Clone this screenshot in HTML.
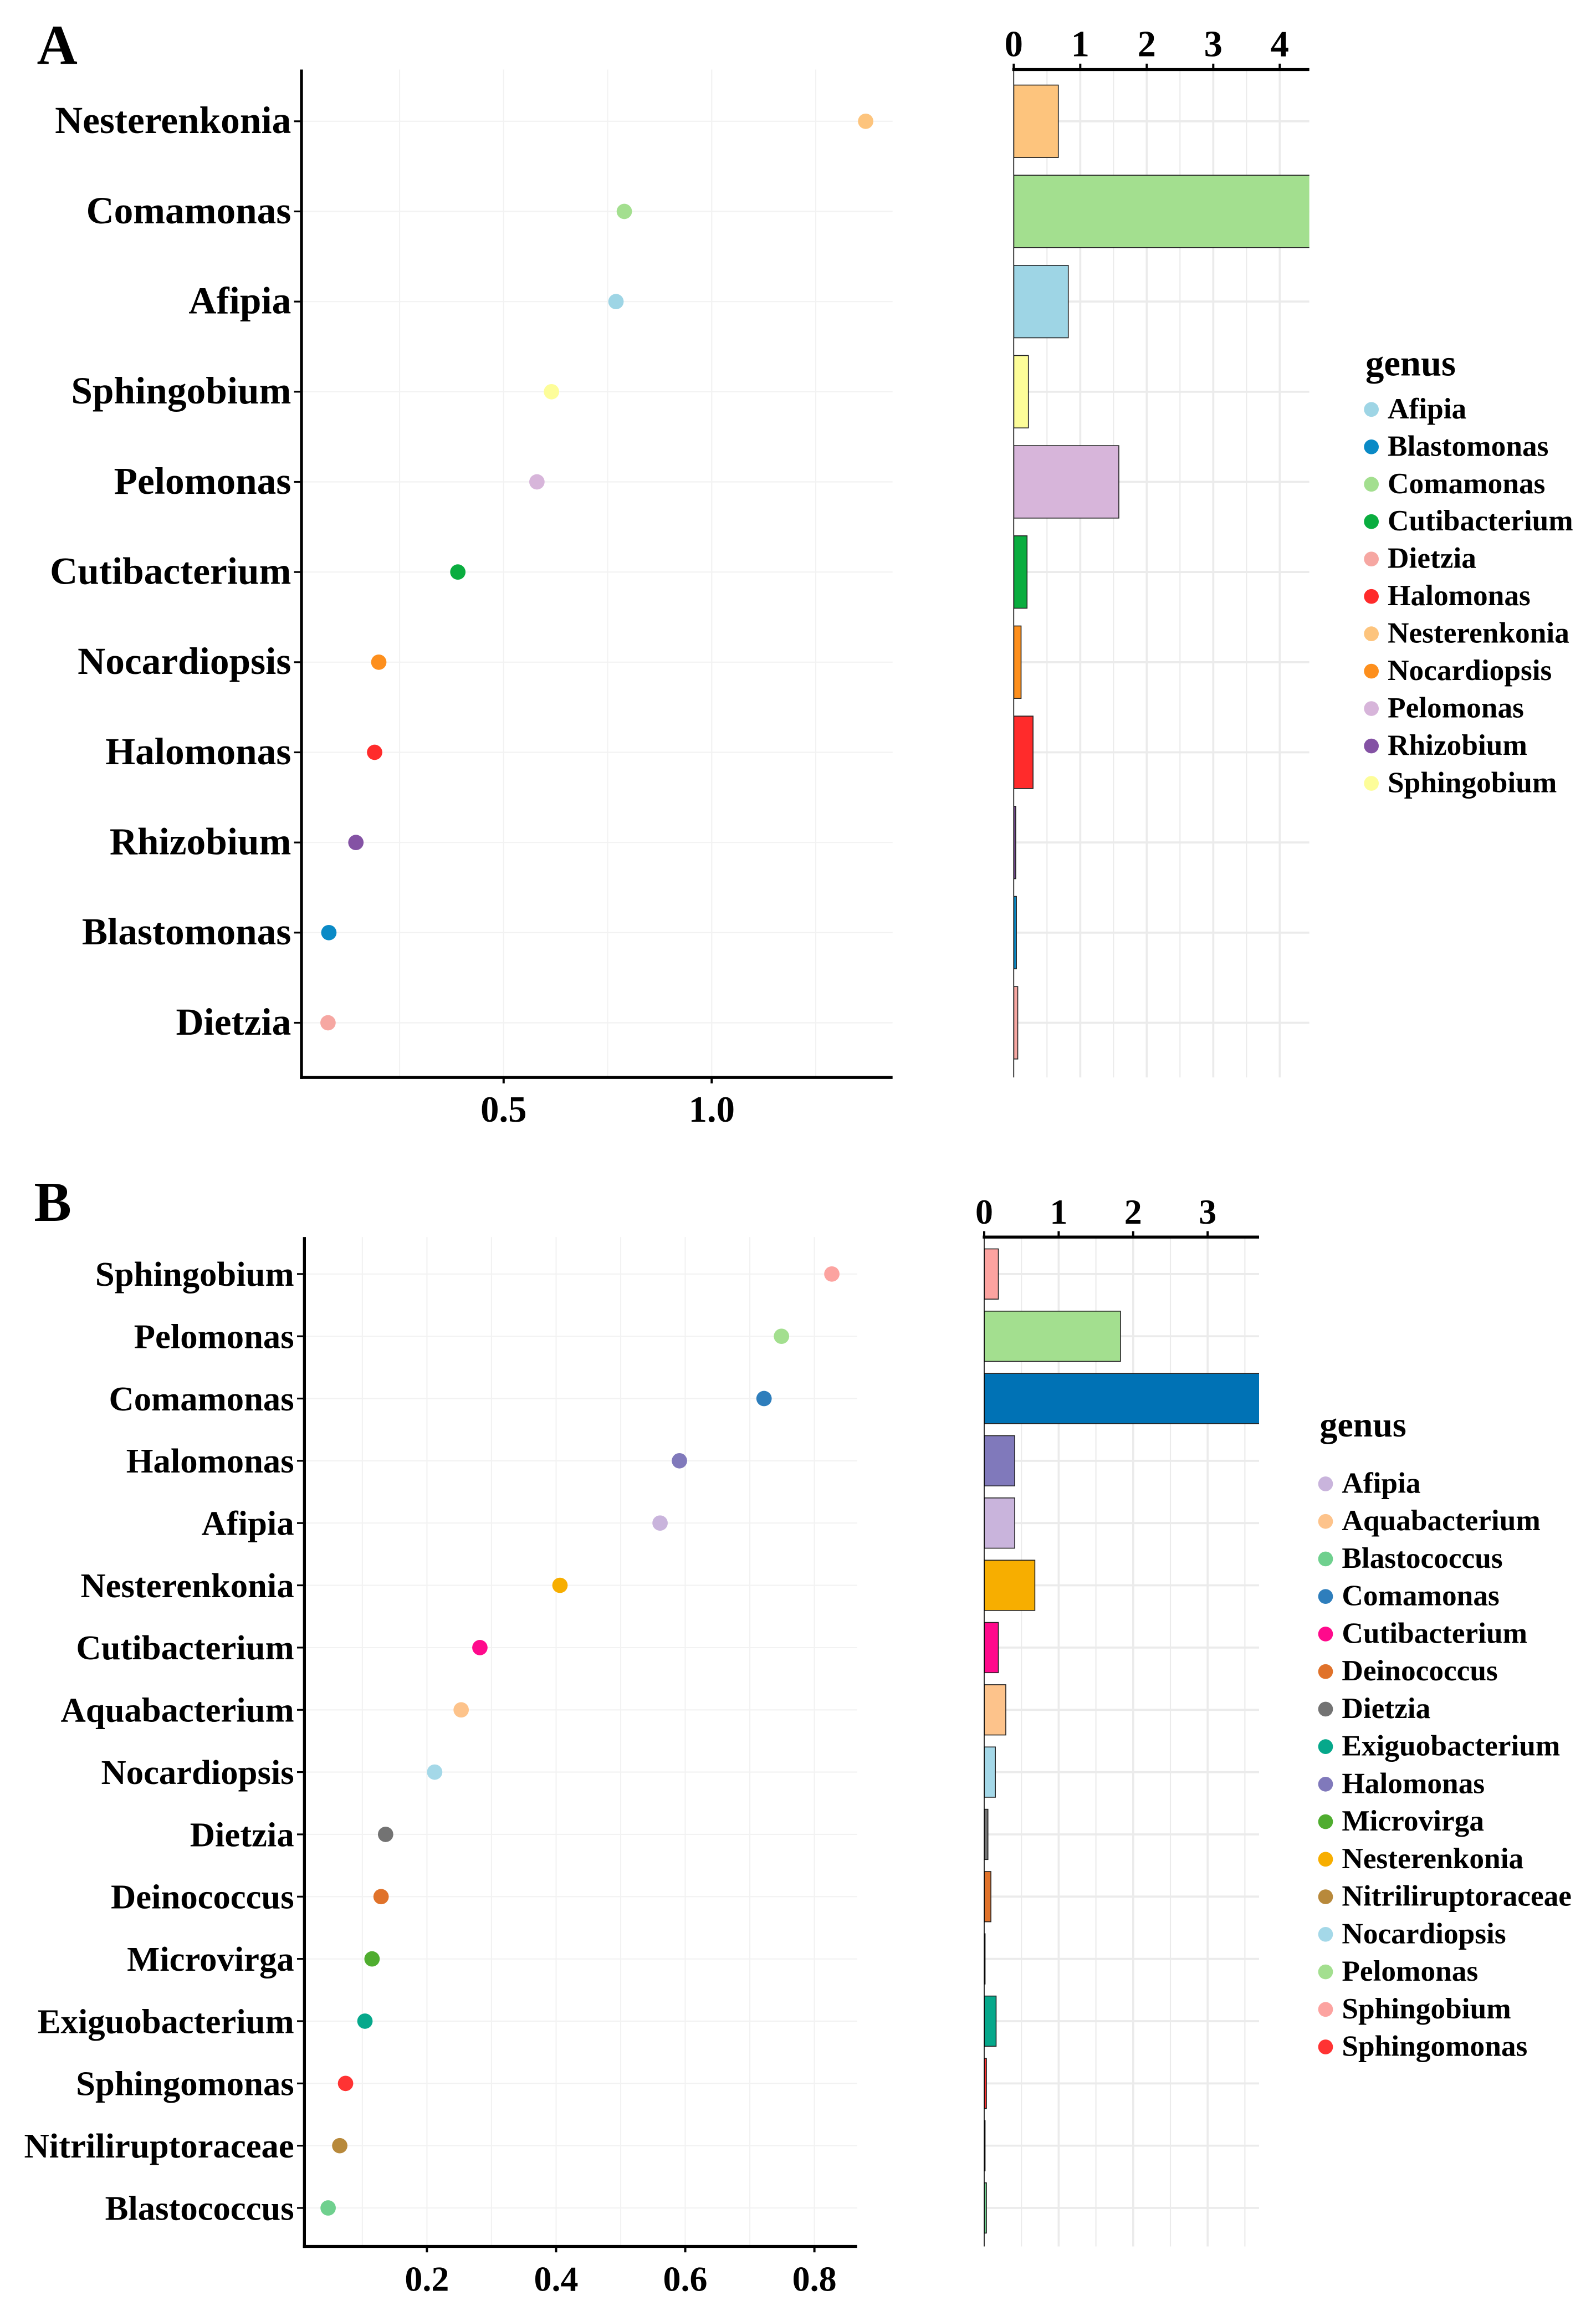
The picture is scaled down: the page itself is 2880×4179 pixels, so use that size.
<!DOCTYPE html>
<html><head><meta charset="utf-8"><style>
html,body{margin:0;padding:0;background:#fff;}
svg{display:block;}
text{font-family:"Liberation Serif",serif;font-weight:bold;fill:#000;}
</style></head><body>
<svg id="fig" width="2880" height="4179" viewBox="0 0 1080 1567" xmlns="http://www.w3.org/2000/svg">
<rect x="0" y="0" width="1080" height="1567" fill="#fff"/>
<text x="25" y="43" font-size="38">A</text>
<text x="23" y="826" font-size="38">B</text>
</svg>
<script>
// ---------- Panel A data ----------
const genusA = ["Nesterenkonia","Comamonas","Afipia","Sphingobium","Pelomonas","Cutibacterium","Nocardiopsis","Halomonas","Rhizobium","Blastomonas","Dietzia"];
const dotValA = [1.37,0.79,0.77,0.615,0.58,0.39,0.2,0.19,0.145,0.08,0.078];
const barValA = [0.67,4.6,0.82,0.22,1.58,0.2,0.11,0.29,0.03,0.04,0.06];
const colorA = ["#fdc47d","#a3df8f","#9ed5e5","#fdfd99","#d7b5da","#0aad3f","#fd8f1d","#ff2b2b","#8452a4","#0a8ac6","#f6a7a2"];
const dotTicksA = ["0.5","1.0"];
const barTicksA = ["0","1","2","3","4"];
const legendA = ["Afipia","Blastomonas","Comamonas","Cutibacterium","Dietzia","Halomonas","Nesterenkonia","Nocardiopsis","Pelomonas","Rhizobium","Sphingobium"];
const legendColorA = ["#9ed5e5","#0a8ac6","#a3df8f","#0aad3f","#f6a7a2","#ff2b2b","#fdc47d","#fd8f1d","#d7b5da","#8452a4","#fdfd99"];
// ---------- Panel B data ----------
const genusB = ["Sphingobium","Pelomonas","Comamonas","Halomonas","Afipia","Nesterenkonia","Cutibacterium","Aquabacterium","Nocardiopsis","Dietzia","Deinococcus","Microvirga","Exiguobacterium","Sphingomonas","Nitriliruptoraceae","Blastococcus"];
const dotValB = [0.827,0.749,0.722,0.591,0.561,0.406,0.282,0.253,0.212,0.136,0.129,0.115,0.104,0.074,0.065,0.047];
const barValB = [0.19,1.83,3.8,0.41,0.41,0.68,0.19,0.29,0.15,0.05,0.09,0.01,0.16,0.03,0.01,0.03];
const colorB = ["#fca3a0","#a3df8f","#2e7ebc","#8079bb","#c9b4dc","#f7ae00","#ff0a8c","#fdc38b","#a4d8e8","#737373","#e0722a","#4fad2f","#06a88b","#ff3333","#b8893b","#6fd08e"];
const barColorB = ["#fca3a0","#a3df8f","#0072b5","#8079bb","#c9b4dc","#f7ae00","#ff0a8c","#fdc38b","#a4d8e8","#737373","#e0722a","#4fad2f","#06a88b","#ff3333","#b8893b","#6fd08e"];
const dotTicksB = ["0.2","0.4","0.6","0.8"];
const barTicksB = ["0","1","2","3"];
const legendB = ["Afipia","Aquabacterium","Blastococcus","Comamonas","Cutibacterium","Deinococcus","Dietzia","Exiguobacterium","Halomonas","Microvirga","Nesterenkonia","Nitriliruptoraceae","Nocardiopsis","Pelomonas","Sphingobium","Sphingomonas"];
const legendColorB = ["#c9b4dc","#fdc38b","#6fd08e","#2e7ebc","#ff0a8c","#e0722a","#737373","#06a88b","#8079bb","#4fad2f","#f7ae00","#b8893b","#a4d8e8","#a3df8f","#fca3a0","#ff3333"];

const NS = "http://www.w3.org/2000/svg";
const svg = document.getElementById("fig");
function mk(tag, attrs, parent) {
  const e = document.createElementNS(NS, tag);
  for (const k in attrs) e.setAttribute(k, attrs[k]);
  (parent || svg).appendChild(e);
  return e;
}

function drawPanel(cfg) {
  const g = mk("g", {});
  
  
  const n = cfg.genus.length;
  const yRow = i => cfg.rowTop + i * cfg.rowStep;
  const xDot = v => cfg.dotX0 + v * cfg.dotScale;
  const xBar = v => cfg.barX0 + v * cfg.barScale;
  for (let m = cfg.minorStep; m * cfg.dotScale + cfg.dotX0 < cfg.dotRight; m += cfg.minorStep) {
    const x = xDot(m);
    if (x <= cfg.dotLeft + 1) continue;
    const gl = mk("line", {x1:x, x2:x, y1:cfg.top, y2:cfg.bottom, stroke:"#f2f2f2", "stroke-width":0.8}, g);
    
    
  }
  for (let i = 0; i < n; i++) {
    const gl = mk("line", {x1:cfg.dotLeft, x2:cfg.dotRight, y1:yRow(i), y2:yRow(i), stroke:"#f2f2f2", "stroke-width":0.8}, g);
    
    
  }
  const ya = mk("line", {x1:cfg.dotLeft, x2:cfg.dotLeft, y1:cfg.top, y2:cfg.bottom+1, stroke:"#000", "stroke-width":2}, g);
  
  
  const xa = mk("line", {x1:cfg.dotLeft-1, x2:cfg.dotRight, y1:cfg.bottom, y2:cfg.bottom, stroke:"#000", "stroke-width":2}, g);
  
  
  cfg.dotTicks.forEach(t => {
    const x = xDot(parseFloat(t));
    mk("line", {x1:x, x2:x, y1:cfg.bottom, y2:cfg.bottom+4, stroke:"#000", "stroke-width":1.5}, g);
    const tl = mk("text", {x:x, y:cfg.bottom+30, "font-size":cfg.tfs, "text-anchor":"middle"}, g);
    tl.textContent = t;
    
    
  });
  for (let i = 0; i < n; i++) {
    const y = yRow(i);
    mk("line", {x1:cfg.dotLeft-5, x2:cfg.dotLeft, y1:y, y2:y, stroke:"#000", "stroke-width":1.2}, g);
    const lab = mk("text", {x:cfg.dotLeft-7, y:y+8, "font-size":cfg.fs, "text-anchor":"end"}, g);
    lab.textContent = cfg.genus[i];
    
    
    const dot = mk("circle", {cx:xDot(cfg.dotVal[i]), cy:y, r:5.2, fill:cfg.color[i]}, g);
    
    
  }
  for (let m = 0.5; xBar(m) < cfg.barRight; m += 0.5) {
    const x = xBar(m);
    const gl = mk("line", {x1:x, x2:x, y1:cfg.top, y2:cfg.bottom, stroke:"#ebebeb", "stroke-width":(m % 1 === 0) ? 1.4 : 0.8}, g);
    
    
  }
  for (let i = 0; i < n; i++) {
    const gl = mk("line", {x1:cfg.barX0, x2:cfg.barRight, y1:yRow(i), y2:yRow(i), stroke:"#ebebeb", "stroke-width":1.4}, g);
    
    
  }
  const clip = mk("clipPath", {id:cfg.name+"-clip"}, g);
  mk("rect", {x:cfg.barX0, y:cfg.top, width:cfg.barRight-cfg.barX0, height:cfg.bottom-cfg.top}, clip);
  const bars = mk("g", {"clip-path":"url(#"+cfg.name+"-clip)"}, g);
  for (let i = 0; i < n; i++) {
    const b = mk("rect", {x:cfg.barX0, y:yRow(i)-cfg.barH/2, width:Math.max(0.6, xBar(cfg.barVal[i])-cfg.barX0), height:cfg.barH, fill:cfg.barColor[i], stroke:"#222", "stroke-width":0.6}, bars);
    
    
  }
  const bl = mk("line", {x1:cfg.barX0, x2:cfg.barX0, y1:cfg.top, y2:cfg.bottom, stroke:"#000", "stroke-width":0.6}, g);
  
  
  const bx = mk("line", {x1:cfg.barX0-1, x2:cfg.barRight, y1:cfg.top, y2:cfg.top, stroke:"#000", "stroke-width":2}, g);
  
  
  cfg.barTicks.forEach(t => {
    const x = xBar(parseFloat(t));
    mk("line", {x1:x, x2:x, y1:cfg.top-4, y2:cfg.top, stroke:"#000", "stroke-width":1.5}, g);
    const tl = mk("text", {x:x, y:cfg.top-9, "font-size":cfg.tfs, "text-anchor":"middle"}, g);
    tl.textContent = t;
    
    
  });
  const lt = mk("text", {x:cfg.legX-4, y:cfg.legTitleY, "font-size":cfg.tfs}, g);
  lt.textContent = "genus";
  
  
  cfg.legend.forEach((name, i) => {
    const y = cfg.legY0 + i * cfg.legStep;
    const c = mk("circle", {cx:cfg.legX, cy:y+1, r:5, fill:cfg.legendColor[i]}, g);
    
    
    const t = mk("text", {x:cfg.legX+11, y:y+7, "font-size":20}, g);
    t.textContent = name;
    
    
  });
}

drawPanel({name:"panel-a", genus:genusA, dotVal:dotValA, barVal:barValA, color:colorA, barColor:colorA,
  dotTicks:dotTicksA, barTicks:barTicksA, legend:legendA, legendColor:legendColorA,
  top:47, bottom:729, rowTop:82, rowStep:61, dotLeft:204, dotRight:604, dotX0:200, dotScale:281.6, minorStep:0.25,
  barX0:686, barScale:45, barRight:886, barH:49, fs:26, tfs:25, legX:928, legTitleY:254, legY0:276, legStep:25.3});

drawPanel({name:"panel-b", genus:genusB, dotVal:dotValB, barVal:barValB, color:colorB, barColor:barColorB,
  dotTicks:dotTicksB, barTicks:barTicksB, legend:legendB, legendColor:legendColorB,
  top:837, bottom:1520, rowTop:862, rowStep:42.13, dotLeft:206, dotRight:580, dotX0:201.5, dotScale:437, minorStep:0.1,
  barX0:666, barScale:50.4, barRight:852, barH:34, fs:23.5, tfs:24, legX:897, legTitleY:972, legY0:1003, legStep:25.4});
</script>
</body></html>
